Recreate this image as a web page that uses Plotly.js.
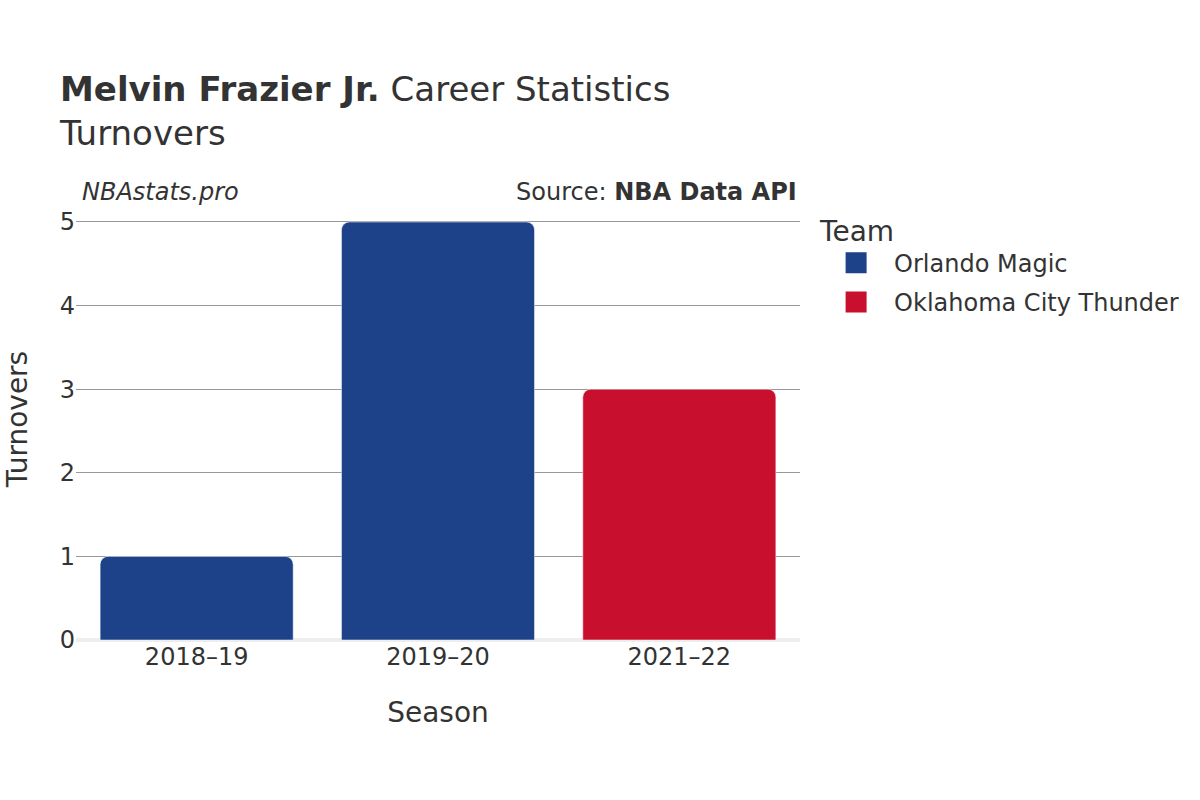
<!DOCTYPE html>
<html>
<head>
<meta charset="utf-8">
<script src="https://cdn.plot.ly/plotly-3.0.1.min.js"></script>
<style>html,body{margin:0;padding:0;background:#fff;}</style>
</head>
<body>
<div id="chart" style="width:1200px;height:800px;"></div>
<script>
const seasonsMagic = ["2018–19", "2019–20"];
const turnoversMagic = [1, 5];
const seasonsThunder = ["2021–22"];
const turnoversThunder = [3];
const categories = ["2018–19", "2019–20", "2021–22"];
const teamNames = ["Orlando Magic", "Oklahoma City Thunder"];
const teamColors = ["#1D428A", "#C8102E"];

const font = "DejaVu Sans, sans-serif";
const barLine = {color: "rgba(255,255,255,0.5)", width: 1};
const traces = [
  {type: "bar", x: seasonsMagic, y: turnoversMagic, name: teamNames[0], showlegend: false, legendgroup: "a",
   marker: {color: teamColors[0], line: barLine}},
  {type: "bar", x: seasonsThunder, y: turnoversThunder, name: teamNames[1], showlegend: false, legendgroup: "b",
   marker: {color: teamColors[1], line: barLine}},
  {type: "scatter", mode: "markers", x: [null], y: [null], name: teamNames[0], legendgroup: "a", hoverinfo: "skip",
   marker: {symbol: "square", size: 16, color: teamColors[0], line: {color: teamColors[0], width: 5}}},
  {type: "scatter", mode: "markers", x: [null], y: [null], name: teamNames[1], legendgroup: "b", hoverinfo: "skip",
   marker: {symbol: "square", size: 16, color: teamColors[1], line: {color: teamColors[1], width: 5}}}
];
const layout = {
  width: 1200, height: 800,
  paper_bgcolor: "#fff", plot_bgcolor: "#fff",
  font: {family: font, color: "#333", size: 24},
  margin: {l: 76, r: 400, t: 198, b: 160},
  barmode: "overlay", bargap: 0.2, barcornerradius: 8,
  title: {text: "<b>Melvin Frazier Jr.</b> Career Statistics<br>Turnovers",
          x: 0.05, xanchor: "left", y: 0.874, yanchor: "top", font: {size: 34, family: font, color: "#333"}},
  xaxis: {categoryorder: "array", categoryarray: categories, type: "category",
          title: {text: "Season", font: {size: 28}, standoff: 32}, tickfont: {size: 24}, showgrid: false,
          ticks: "", ticklen: 0},
  yaxis: {range: [0, 5.287], tickvals: [0, 1, 2, 3, 4, 5], gridcolor: "#999", gridwidth: 1,
          zeroline: true, zerolinecolor: "#eee", zerolinewidth: 4,
          title: {text: "Turnovers", font: {size: 28}, standoff: 23}, tickfont: {size: 24},
          ticks: "", ticklen: 0},
  legend: {x: 1.025, xanchor: "left", y: 0.986, yanchor: "top", itemwidth: 66,
           title: {text: "Team", font: {size: 28}}, font: {size: 24}, tracegroupgap: 5},
  annotations: [
    {text: "<i>NBAstats.pro</i>", xref: "paper", yref: "paper", x: 0.005, y: 1.0136, xanchor: "left", yanchor: "middle", showarrow: false, font: {size: 24}},
    {text: "Source: <b>NBA Data API</b>", xref: "paper", yref: "paper", x: 0.999, y: 1.0136, xanchor: "right", yanchor: "middle", showarrow: false, font: {size: 24}}
  ]
};
Plotly.newPlot("chart", traces, layout, {displayModeBar: false});
</script>
</body>
</html>
